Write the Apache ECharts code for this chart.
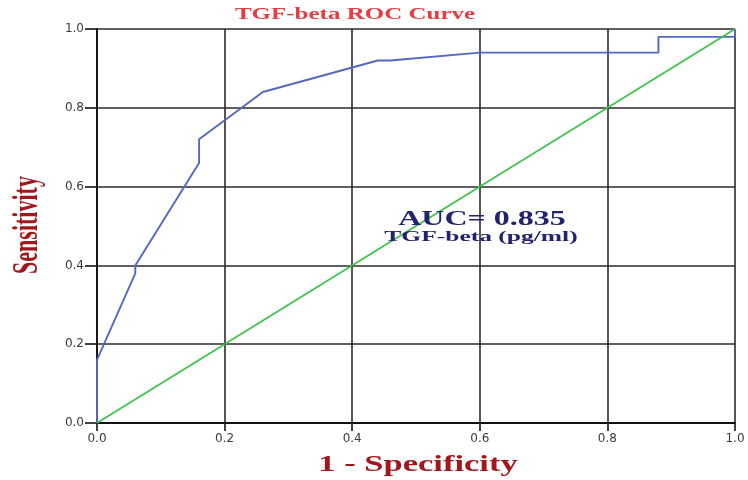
<!DOCTYPE html>
<html>
<head>
<meta charset="utf-8">
<script src="https://cdn.jsdelivr.net/npm/echarts@6/dist/echarts.min.js"></script>
<style>
html,body{margin:0;padding:0;background:#fff;}
#chart{width:748px;height:480px;}
</style>
</head>
<body>
<div id="chart"></div>
<script>
// ROC curve points (1 - specificity, sensitivity)
const rocX = [0, 0, 0.06, 0.06, 0.16, 0.16, 0.26, 0.44, 0.46, 0.60, 0.88, 0.88, 1.0, 1.0];
const rocY = [0, 0.16, 0.38, 0.40, 0.66, 0.72, 0.84, 0.92, 0.92, 0.94, 0.94, 0.98, 0.98, 1.0];
// reference diagonal
const refX = [0, 1];
const refY = [0, 1];
// tick labels
const tickValues = [0, 0.2, 0.4, 0.6, 0.8, 1.0];
const tickLabels = ['0.0', '0.2', '0.4', '0.6', '0.8', '1.0'];
const titleText = 'TGF-beta ROC Curve';
const xName = '1 - Specificity';
const yName = 'Sensitivity';
const aucText = 'AUC= 0.835';
const varText = 'TGF-beta (pg/ml)';

const chart = echarts.init(document.getElementById('chart'), null, {renderer: 'canvas'});

function fmt(v) {
  for (let i = 0; i < tickValues.length; i++) {
    if (Math.abs(v - tickValues[i]) < 1e-6) return tickLabels[i];
  }
  return '';
}

const gridLine = {show: true, lineStyle: {color: '#2b2b2b', width: 1.6}};
const serif = '"Liberation Serif", "DejaVu Serif", serif';
const tickFont = {color: '#3a3a3a', fontSize: 12, fontFamily: '"DejaVu Sans", sans-serif'};

const option = {
  backgroundColor: '#ffffff',
  animation: false,
  grid: {left: 97, right: 13, top: 29, bottom: 57, containLabel: false},
  xAxis: {
    type: 'value', min: 0, max: 1, interval: 0.2,
    axisLine: {show: true, onZero: false, lineStyle: {color: '#111', width: 1.8}},
    axisTick: {show: true, length: 8, lineStyle: {color: '#111', width: 1.6}},
    axisLabel: Object.assign({formatter: fmt, margin: 10}, tickFont),
    splitLine: gridLine
  },
  yAxis: {
    type: 'value', min: 0, max: 1, interval: 0.2,
    axisLine: {show: true, onZero: false, lineStyle: {color: '#111', width: 1.8}},
    axisTick: {show: true, length: 12, lineStyle: {color: '#111', width: 1.6}},
    axisLabel: Object.assign({formatter: fmt, margin: 13}, tickFont),
    splitLine: gridLine
  },
  series: [
    {
      type: 'line', data: rocX.map((x, i) => [x, rocY[i]]),
      symbol: 'none', clip: false, z: 3,
      lineStyle: {color: '#5468c2', width: 1.9}
    },
    {
      type: 'line', data: refX.map((x, i) => [x, refY[i]]),
      symbol: 'none', clip: false, z: 4,
      lineStyle: {color: '#3cc24a', width: 1.6}
    }
  ],
  graphic: [
    {type: 'text', x: 355, y: 15, scaleX: 1.47, z: 10,
     style: {text: titleText, fill: '#e83c40', font: 'bold 17px ' + serif, textAlign: 'center', textVerticalAlign: 'middle'}},
    {type: 'text', x: 28, y: 225, rotation: Math.PI / 2, scaleY: 1.6, z: 10,
     style: {text: yName, fill: '#a3171b', font: 'bold 22px ' + serif, textAlign: 'center', textVerticalAlign: 'middle'}},
    {type: 'text', x: 418, y: 465, scaleX: 1.5, z: 10,
     style: {text: xName, fill: '#a3171b', font: 'bold 23px ' + serif, textAlign: 'center', textVerticalAlign: 'middle'}},
    {type: 'text', x: 482, y: 220, scaleX: 1.6, z: 10,
     style: {text: aucText, fill: '#22226e', font: 'bold 20px ' + serif, textAlign: 'center', textVerticalAlign: 'middle'}},
    {type: 'text', x: 481, y: 237, scaleX: 1.7, z: 10,
     style: {text: varText, fill: '#22226e', font: 'bold 15px ' + serif, textAlign: 'center', textVerticalAlign: 'middle'}}
  ]
};
chart.setOption(option);
</script>
</body>
</html>
